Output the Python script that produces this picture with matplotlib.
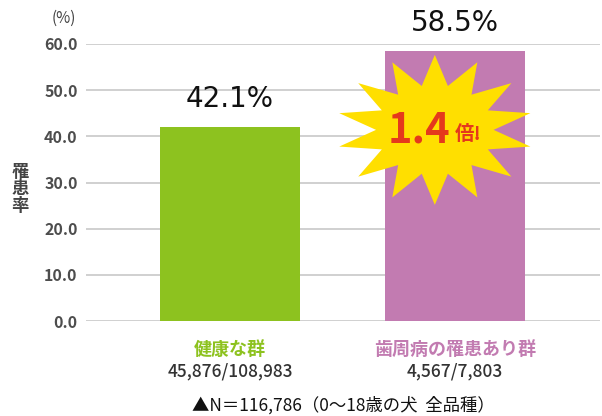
import numpy as np
import matplotlib.pyplot as plt
from matplotlib.patches import Polygon
from matplotlib.transforms import Affine2D

plt.rcParams['font.family'] = ['Noto Sans CJK JP', 'DejaVu Sans']

# data
groups = ["健康な群", "歯周病の罹患あり群"]
counts = ["45,876/108,983", "4,567/7,803"]
rates = [42.1, 58.5]
yticks = [0, 10, 20, 30, 40, 50, 60]
bar_colors = ["#8dc21f", "#c27bb1"]
ratio_text = "1.4"

W, H = 602, 416
fig = plt.figure(figsize=(W / 100, H / 100), dpi=100)
ax = fig.add_axes([86 / W, (H - 321) / H, (600 - 86) / W, (321 - 44) / H])

x = np.arange(len(rates))
ax.bar(x, rates, width=0.62, color=bar_colors, zorder=2)
ax.set_xlim(-0.64, 1.644)
ax.set_ylim(0, 60)

ax.set_yticks(yticks)
ax.set_yticklabels([f"{v:.1f}" for v in yticks], fontsize=11.5, color="#4d4d4d",
                   fontweight="bold")
ax.tick_params(axis="y", length=0, pad=6)
ax.set_xticks([])
ax.grid(axis="y", color="#c8c8c8", linewidth=1.2, zorder=0)
for s in ax.spines.values():
    s.set_visible(False)

# value labels
for xi, r in zip(x, rates):
    ax.text(xi, r + 3, f"{r}%", ha="center", va="bottom", fontsize=20,
            family="DejaVu Sans", color="#111111", clip_on=False)

# group labels
for xi, g, c, col in zip(x, groups, counts, bar_colors):
    ax.text(xi, -6.2, g, ha="center", va="center", fontsize=13,
            fontweight="bold", color=col, clip_on=False)
    ax.text(xi, -11, c, ha="center", va="center", fontsize=12.5,
            fontweight="medium", color="#333333", clip_on=False)

fig.text(343 / W, 1 - 405 / H, "▲N＝116,786（0〜18歳の犬  全品種）",
         ha="center", va="center", fontsize=12.5, color="#111111")
fig.text(64 / W, 1 - 18 / H, "(%)", ha="center", va="center",
         fontsize=11, color="#444444")
fig.text(20 / W, 1 - 189 / H, "罹\n患\n率", ha="center", va="center",
         fontsize=12.5, fontweight="bold", color="#444444", linespacing=0.95)

# starburst
cx, cy = ax.transData.transform((0.91, 41.4))
n = 14
ang = np.pi / 2 + np.arange(2 * n) * np.pi / n
rad = np.where(np.arange(2 * n) % 2 == 0, 1.0, 0.6)
verts = np.column_stack([98 * rad * np.cos(ang), 75 * rad * np.sin(ang)])
star = Polygon(verts, closed=True, facecolor="#ffdf00", edgecolor="none",
               transform=Affine2D().translate(cx, cy), zorder=3)
ax.add_patch(star)
star.set_clip_on(False)
ax.text(0.84, 41.3, ratio_text, ha="center", va="center", fontsize=30,
        fontweight="bold", color="#e5391c", zorder=4)
ax.text(1.06, 40.5, "倍!", ha="center", va="center", fontsize=14,
        fontweight="bold", color="#e5391c", zorder=4)

fig.savefig("out.png", dpi=100)
